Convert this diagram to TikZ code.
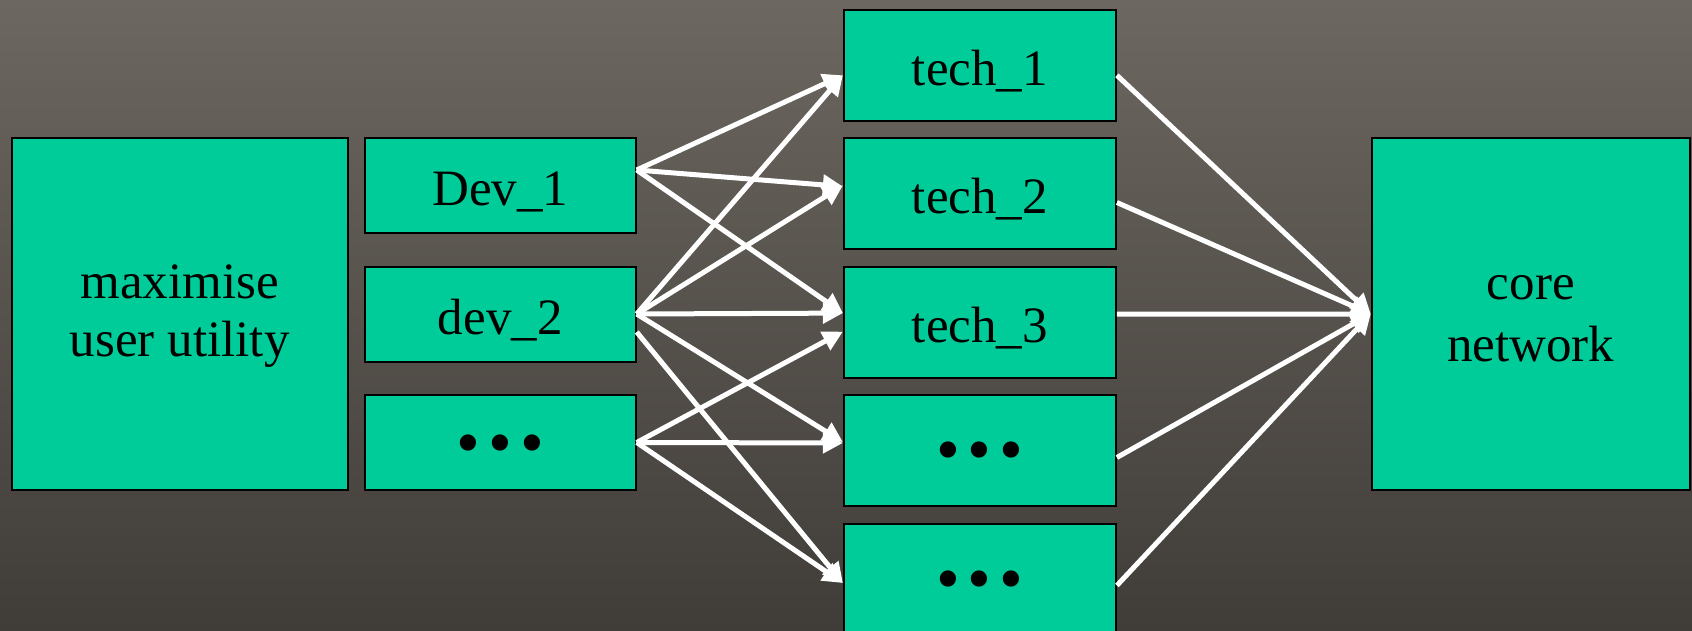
\documentclass[tikz,border=0pt]{standalone}
\usepackage{fontspec}
\setmainfont{Liberation Serif}
\usetikzlibrary{arrows.meta}
\definecolor{boxgreen}{RGB}{0,204,153}
\definecolor{bgtop}{RGB}{108,103,96}
\definecolor{bgmid}{RGB}{98,93,87}
\definecolor{bgbot}{RGB}{64,60,56}
\newcommand{\threedots}{{\fontsize{68}{68}\selectfont •\hspace{8pt}•\hspace{8pt}•}}

\begin{document}
\begin{tikzpicture}[x=1pt,y=-1pt,
  box/.style={draw=black, line width=2pt, fill=boxgreen, inner sep=0pt,
    font=\fontsize{51}{58}\selectfont},
  devbox/.style={box, minimum width=271pt, minimum height=95pt,
    text height=40pt, text depth=0pt},
  techbox/.style={box, minimum width=272pt, minimum height=111pt,
    text height=40pt, text depth=0pt},
  dotsbox/.style={text height=45pt},
  bigbox/.style={box, align=center, minimum height=352pt},
  link/.style={draw=white, line width=5pt,
    -{Triangle[length=20pt,width=20pt]}}
]
% background
\shade[top color=bgtop, middle color=bgmid, bottom color=bgbot]
  (0,0) rectangle (1692,631);
\useasboundingbox (0,0) rectangle (1692,631);

% left column
\node[bigbox, minimum width=336pt] (user) at (179.75,314)
  {\rule{0pt}{38pt}maximise\\user utility};

% devices
\node[devbox] (dev1) at (500.2,185.5) {Dev\_1};
\node[devbox] (dev2) at (500.2,314) {dev\_2};
\node[devbox, dotsbox] (devn) at (500.2,442.5) {\threedots};

% technologies
\node[techbox] (tech1) at (979.9,65.3) {tech\_1};
\node[techbox] (tech2) at (979.9,193.5) {tech\_2};
\node[techbox] (tech3) at (979.9,322.1) {tech\_3};
\node[techbox, dotsbox] (techa) at (979.9,450) {\threedots};
\node[techbox, dotsbox] (techb) at (979.9,579) {\threedots};

% core
\node[bigbox, minimum width=318pt, font=\fontsize{51}{62}\selectfont]
  (core) at (1530.8,314) {\rule{0pt}{34pt}core\\network};

% device to technology links
\draw[link] ([yshift=15.5pt]dev1.east) -- ([yshift=-10pt]tech1.west);
\draw[link] ([yshift=15.5pt]dev1.east) -- ([yshift=7pt]tech2.west);
\draw[link] ([yshift=15.5pt]dev1.east) -- ([yshift=9pt]tech3.west);

\draw[link] (dev2.east) -- ([yshift=-10pt]tech1.west);
\draw[link] (dev2.east) -- ([yshift=8pt]tech2.west);
\draw[link] (dev2.east) -- ([yshift=9pt]tech3.west);
\draw[link] (dev2.east) -- ([yshift=8pt]techa.west);
\draw[link] ([yshift=-18pt]dev2.east) -- ([yshift=-4pt]techb.west);

\draw[link] (devn.east) -- ([yshift=-9.5pt]tech3.west);
\draw[link] (devn.east) -- ([yshift=7pt]techa.west);
\draw[link] (devn.east) -- ([yshift=-4pt]techb.west);

% technology to core links
\draw[link] ([yshift=-10pt]tech1.east) -- (core.west);
\draw[link] ([yshift=-9pt]tech2.east) -- (core.west);
\draw[link] ([yshift=8pt]tech3.east) -- (core.west);
\draw[link] ([yshift=-7.5pt]techa.east) -- (core.west);
\draw[link] ([yshift=-6.5pt]techb.east) -- (core.west);
\end{tikzpicture}
\end{document}
